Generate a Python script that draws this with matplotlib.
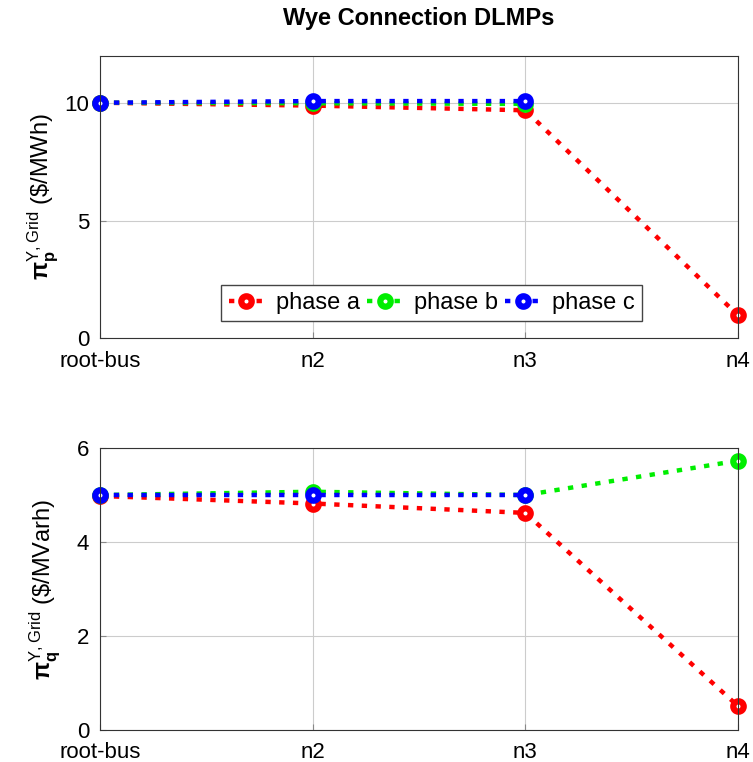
import matplotlib
matplotlib.use('Agg')
import matplotlib.pyplot as plt

plt.rcParams['font.family'] = ['Liberation Sans', 'DejaVu Sans']
plt.rcParams['mathtext.fontset'] = 'custom'
plt.rcParams['mathtext.rm'] = 'Liberation Sans'
plt.rcParams['mathtext.bf'] = 'Liberation Sans:bold'

buses = ['root-bus', 'n2', 'n3', 'n4']

# active power prices ($/MWh)
p_a = [10.0, 9.88, 9.68, 0.98]
p_b = [10.0, 9.98, 9.95]
p_c = [10.0, 10.07, 10.07]

# reactive power prices ($/MVarh)
q_a = [4.98, 4.82, 4.62, 0.51]
q_b = [5.0, 5.07, 5.0, 5.73]
q_c = [5.0, 5.0, 5.0]

colors = {'a': '#ff0000', 'b': '#00ee00', 'c': '#0000ff'}

fig = plt.figure(figsize=(7.53, 7.62), dpi=100)
ax1 = fig.add_axes([0.133, 0.556, 0.847, 0.371])
ax2 = fig.add_axes([0.133, 0.042, 0.847, 0.370])

style = dict(linestyle=(0, (1.2, 1.9)), linewidth=3.2, marker='o', markersize=7.5,
             markerfacecolor='white', markeredgewidth=4.5, clip_on=False)

def draw(ax, series):
    for key, vals in series:
        ax.plot(range(len(vals)), vals, color=colors[key], markeredgecolor=colors[key],
                label='phase ' + key, **style)
    ax.set_xlim(0, 3)
    ax.set_xticks(range(4))
    ax.set_xticklabels(buses)
    ax.grid(True, color='#cccccc', linewidth=0.8)
    ax.set_axisbelow(True)
    ax.tick_params(direction='in', labelsize=16, color='#888888', length=4, pad=8)
    ax.tick_params(axis='x', pad=9)
    for s in ax.spines.values():
        s.set_color('#333333')

draw(ax1, [('a', p_a), ('b', p_b), ('c', p_c)])
ax1.set_ylim(0, 12)
ax1.set_yticks([0, 5, 10])
ax1.set_ylabel(r'$\mathbf{\pi}_{\mathbf{p}}^{\mathrm{Y,Grid}}$ (\$/MWh)', fontsize=17, labelpad=2)
ax1.set_title('Wye Connection DLMPs', fontsize=17, fontweight='bold', pad=22)
leg = ax1.legend(loc='lower center', ncol=3, fontsize=17, fancybox=False,
                 edgecolor='#444444', framealpha=1, handlelength=1.5,
                 handletextpad=0.5, columnspacing=0.3, borderpad=0.3,
                 bbox_to_anchor=(0.52, 0.02))

draw(ax2, [('a', q_a), ('b', q_b), ('c', q_c)])
ax2.set_ylim(0, 6)
ax2.set_yticks([0, 2, 4, 6])
ax2.set_ylabel(r'$\mathbf{\pi}_{\mathbf{q}}^{\mathrm{Y,Grid}}$ (\$/MVarh)', fontsize=17, labelpad=10)

fig.savefig('out.png', dpi=100)
